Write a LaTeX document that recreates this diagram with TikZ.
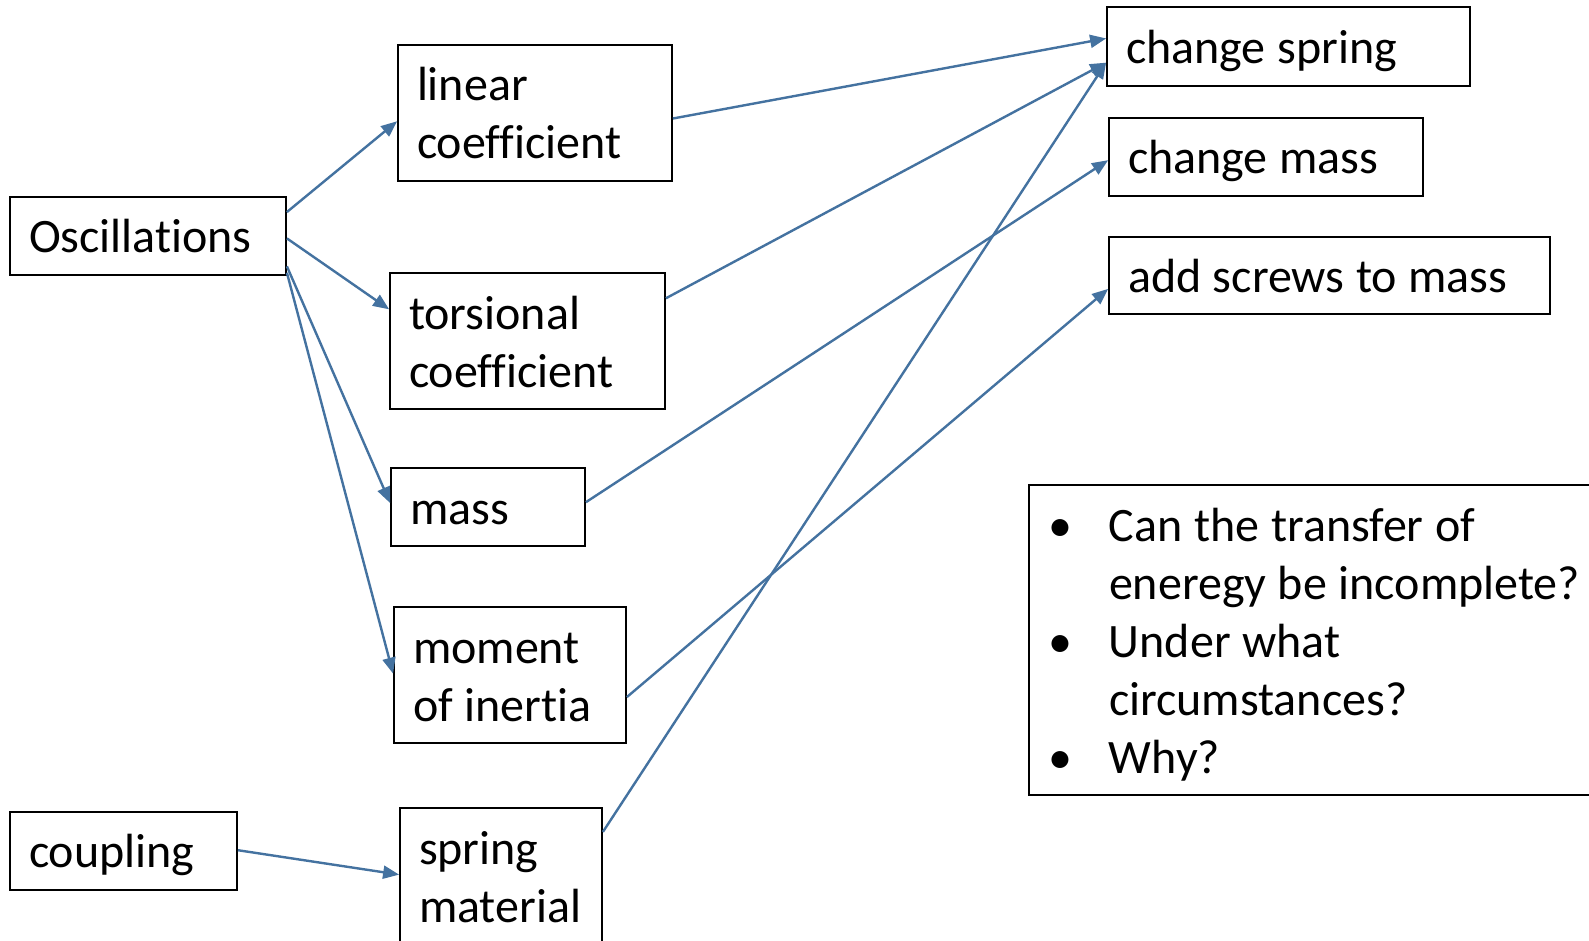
\documentclass[tikz,border=0pt]{standalone}
\usepackage{fontspec}
\setmainfont{Carlito}[Ligatures={NoCommon,NoRequired,NoContextual}]
\usetikzlibrary{calc,arrows.meta}
\definecolor{arr}{RGB}{68,114,160}
\newcommand\sr{\spaceskip=11.6pt\relax\rule[-8pt]{0pt}{50pt}}
\newcommand\bxfont{\fontsize{48pt}{58pt}\selectfont}
\begin{document}
\begin{tikzpicture}[x=1pt,y=-1pt,
  bx/.style={draw=black,line width=1.8pt,inner xsep=19pt,inner ysep=0pt,align=left,
    font=\bxfont},
  con/.style={draw=arr,line width=2.4pt,-{Triangle[length=16pt,width=13pt]}}]
\clip (0,0) rectangle (1589,941);
\fill[white] (0,0) rectangle (1589,941);
% left column
\node[bx,minimum width=276pt,minimum height=78pt,text width=238pt] (osc) at (148,236) {\sr Oscillations};
\node[bx,minimum width=227pt,minimum height=78pt,text width=189pt] (cpl) at (123.5,851) {\sr coupling};
% middle column
\node[bx,minimum width=274pt,minimum height=136pt,text width=236pt] (lin) at (535,113) {\sr linear\\\sr coefficient};
\node[bx,minimum width=275pt,minimum height=136pt,text width=237pt] (tor) at (527.5,341) {\sr torsional\\\sr coefficient};
\node[bx,minimum width=194pt,minimum height=78pt,text width=156pt] (mas) at (488,507) {\sr mass};
\node[bx,minimum width=232pt,minimum height=136pt,text width=194pt] (mom) at (510,675) {\sr moment\\\sr of inertia};
\node[bx,minimum width=202pt,minimum height=136pt,text width=164pt] (spr) at (501,876) {\sr spring\\\sr material};
% right column
\node[bx,minimum width=363pt,minimum height=79pt,text width=325pt] (chs) at (1288.5,46.5) {\sr change spring};
\node[bx,minimum width=314pt,minimum height=78pt,text width=276pt] (chm) at (1266,157) {\sr change mass};
\node[bx,minimum width=441pt,minimum height=77pt,text width=403pt] (scr) at (1329.5,275.5) {\sr add screws to mass};
\node[bx,minimum width=671pt,minimum height=310pt,text width=633pt] (q) at (1364.5,640) {%
\sr\makebox[61pt][l]{•}Can the transfer of\\
\sr\hspace*{61pt}eneregy be incomplete?\\
\sr\makebox[61pt][l]{•}Under what\\
\sr\hspace*{61pt}circumstances?\\
\sr\makebox[61pt][l]{•}Why?};
% connectors
\draw[con] ($(osc.north east)!0.2!(osc.south east)$) -- ($(lin.north west)!0.56!(lin.south west)$);
\draw[con] ($(osc.north east)!0.53!(osc.south east)$) -- ($(tor.north west)!0.27!(tor.south west)$);
\draw[con] ($(osc.north east)!0.88!(osc.south east)$) -- ($(mas.north west)!0.45!(mas.south west)$);
\draw[con] ($(osc.north east)!0.96!(osc.south east)$) -- ($(mom.north west)!0.49!(mom.south west)$);
\draw[con] ($(cpl.north east)!0.49!(cpl.south east)$) -- ($(spr.north west)!0.49!(spr.south west)$);
\draw[con] ($(lin.north east)!0.54!(lin.south east)$) -- ($(chs.north west)!0.4!(chs.south west)$);
\draw[con] ($(tor.north east)!0.19!(tor.south east)$) -- ($(chs.north west)!0.7!(chs.south west)$);
\draw[con] ($(spr.north east)!0.18!(spr.south east)$) -- ($(chs.north west)!0.7!(chs.south west)$);
\draw[con] ($(mas.north east)!0.44!(mas.south east)$) -- ($(chm.north west)!0.54!(chm.south west)$);
\draw[con] ($(mom.north east)!0.66!(mom.south east)$) -- ($(scr.north west)!0.67!(scr.south west)$);
\end{tikzpicture}
\end{document}
